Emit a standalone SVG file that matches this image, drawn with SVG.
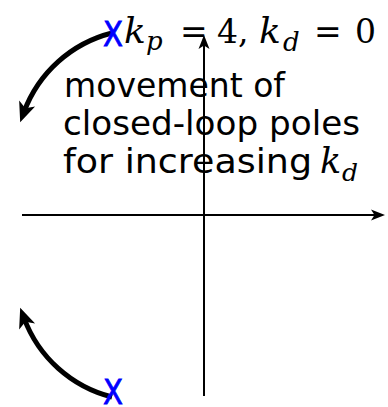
<svg xmlns="http://www.w3.org/2000/svg" width="388" height="407" viewBox="0 0 388 407">
<style>
.lbl{font-family:"DejaVu Sans","Liberation Sans",sans-serif;font-size:34px;fill:#000}
.m{font-family:"DejaVu Serif","Liberation Serif",serif;font-size:33px;fill:#000}
.mi{font-family:"DejaVu Serif","Liberation Serif",serif;font-style:italic;font-size:36px;fill:#000}
.ms{font-family:"DejaVu Serif","Liberation Serif",serif;font-style:italic;font-size:26px;fill:#000}
.pole{font-family:"DejaVu Sans","Liberation Sans",sans-serif;font-size:34px;fill:#0000ff;stroke:#0000ff;stroke-width:0.8}
.axis{stroke:#000;stroke-width:2;fill:none}
.mv{stroke:#000;stroke-width:5;fill:none;marker-end:url(#big)}
</style>
<defs>
<marker id="big" markerUnits="userSpaceOnUse" markerWidth="40" markerHeight="40" viewBox="-20 -20 40 40" refX="0" refY="0" orient="auto">
<path d="M11 0 L-9 -8.5 L-4 0 L-9 8.5 Z" fill="#000"/>
</marker>
</defs>
<g id="label">
<text class="lbl" x="64" y="97" textLength="221" lengthAdjust="spacingAndGlyphs">movement of</text>
<text class="lbl" x="63" y="135" textLength="297" lengthAdjust="spacingAndGlyphs">closed-loop poles</text>
<text class="lbl" x="63" y="173" textLength="249" lengthAdjust="spacingAndGlyphs">for increasing</text>
<text class="mi" x="320" y="173" style="font-size:35px">k</text>
<text class="ms" x="342" y="181" style="font-size:25px">d</text>
</g>
<g id="title">
<text class="mi" x="124" y="43">k</text>
<text class="ms" x="146" y="50">p</text>
<text class="m" x="180" y="43">=</text>
<text class="m" x="217" y="43">4,</text>
<text class="mi" x="259" y="43">k</text>
<text class="ms" x="283" y="51">d</text>
<text class="m" x="314" y="43">=</text>
<text class="m" x="355" y="43">0</text>
</g>
<g id="connectors">
<line class="axis" x1="204" y1="396" x2="204" y2="44"/>
<path d="M204 35 L198.5 49 L204 45.5 L209.5 49 Z" fill="#000"/>
<line class="axis" x1="22" y1="215" x2="377" y2="215"/>
<path d="M385 215 L371 209.5 L374.5 215 L371 220.5 Z" fill="#000"/>
<path class="mv" d="M112 33 A127 127 0 0 0 24 112"/>
<path class="mv" d="M112 397 A127 127 0 0 1 24 318"/>
</g>
<g id="pole-top"><text class="pole" x="103" y="46" textLength="20" lengthAdjust="spacingAndGlyphs">X</text></g>
<g id="pole-bottom"><text class="pole" x="103" y="404" textLength="20" lengthAdjust="spacingAndGlyphs">X</text></g>
</svg>
